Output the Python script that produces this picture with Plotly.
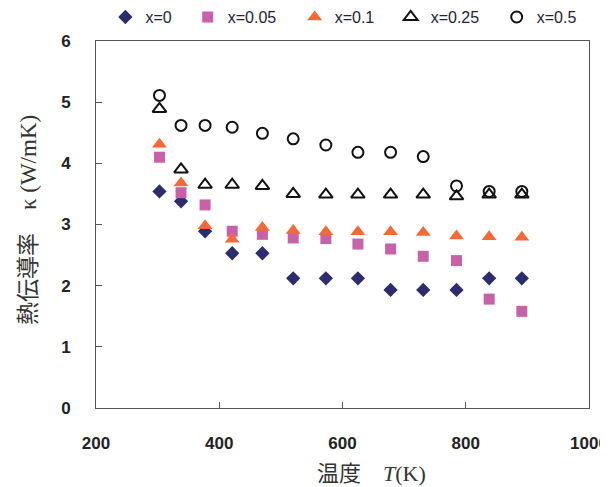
import plotly.graph_objects as go

temps = [303, 338, 377, 421, 470, 520, 573, 625, 678, 731, 785, 838, 891]

k_x0 = [3.54, 3.38, 2.89, 2.53, 2.53, 2.12, 2.12, 2.12, 1.93, 1.93, 1.93, 2.12, 2.12]
k_x005 = [4.10, 3.52, 3.32, 2.89, 2.84, 2.78, 2.77, 2.68, 2.60, 2.48, 2.41, 1.78, 1.58]
k_x01 = [4.31, 3.68, 2.98, 2.76, 2.95, 2.90, 2.88, 2.88, 2.88, 2.87, 2.81, 2.80, 2.79]
k_x025 = [4.89, 3.90, 3.65, 3.65, 3.63, 3.50, 3.49, 3.49, 3.49, 3.49, 3.46, 3.49, 3.49]
k_x05 = [5.11, 4.62, 4.62, 4.59, 4.49, 4.40, 4.30, 4.18, 4.18, 4.11, 3.63, 3.54, 3.54]

series_names = ["x=0", "x=0.05", "x=0.1", "x=0.25", "x=0.5"]
x_ticks = [200, 400, 600, 800, 1000]
y_ticks = [0, 1, 2, 3, 4, 5, 6]

fig = go.Figure()
fig.add_trace(go.Scatter(x=temps, y=k_x0, mode="markers", name=series_names[0], legend="legend",
                         marker=dict(symbol="diamond", size=11, color="#2E2D6B")))
fig.add_trace(go.Scatter(x=temps, y=k_x005, mode="markers", name=series_names[1], legend="legend2",
                         marker=dict(symbol="square", size=11, color="#C862A8")))
fig.add_trace(go.Scatter(x=temps, y=k_x01, mode="markers", name=series_names[2], legend="legend3",
                         marker=dict(symbol="triangle-up", size=13, color="#F26A38")))
fig.add_trace(go.Scatter(x=temps, y=k_x025, mode="markers", name=series_names[3], legend="legend4",
                         marker=dict(symbol="triangle-up-open", size=12, color="#111111",
                                     line=dict(width=2, color="#111111"))))
fig.add_trace(go.Scatter(x=temps, y=k_x05, mode="markers", name=series_names[4], legend="legend5",
                         marker=dict(symbol="circle-open", size=11, color="#111111",
                                     line=dict(width=2, color="#111111"))))

axis_common = dict(showline=True, linecolor="#555555", linewidth=1, mirror=True,
                   ticks="inside", ticklen=6, tickcolor="#555555", showgrid=False,
                   zeroline=False,
                   tickfont=dict(family="Liberation Sans, Arial", size=17, color="#222222",
                                 weight="bold"))

fig.update_xaxes(range=[200, 1000], tickvals=x_ticks, ticklabelstandoff=20, **axis_common)
fig.update_yaxes(range=[0, 6], tickvals=y_ticks, ticklabelstandoff=21, **axis_common)

fig.add_annotation(xref="paper", yref="paper", x=0.558, y=-0.172, showarrow=False,
                   xanchor="center", yanchor="middle",
                   text='温度　<span style="font-family:Liberation Serif"><i>T</i>(K)</span>',
                   font=dict(family="Noto Sans CJK JP", size=22, color="#333333"))
fig.add_annotation(xref="paper", yref="paper", x=-0.142, y=0.512, showarrow=False,
                   xanchor="center", yanchor="middle", textangle=-90,
                   text='熱伝導率　<span style="font-family:Liberation Serif">κ (W/mK)</span>',
                   font=dict(family="Noto Sans CJK JP", size=23, color="#333333"))

legend_font = dict(family="Liberation Sans, Arial", size=16, color="#222233")
legend_x = [0.1623, 0.2995, 0.4778, 0.6378, 0.8145]
legend_layout = {}
for i, lx in enumerate(legend_x):
    key = "legend" if i == 0 else f"legend{i + 1}"
    legend_layout[key] = dict(orientation="h", xref="container", x=lx, xanchor="left",
                              yref="container", y=0.981, yanchor="middle",
                              font=legend_font, bgcolor="rgba(0,0,0,0)")

# the page body adds an 8px margin, so the figure is sized 8px smaller to fit the window
fig.update_layout(
    width=600, height=479,
    margin=dict(l=88, r=19, t=33, b=79, autoexpand=False),
    paper_bgcolor="white", plot_bgcolor="white",
    showlegend=True,
    **legend_layout,
)

fig.write_html("out.html")
